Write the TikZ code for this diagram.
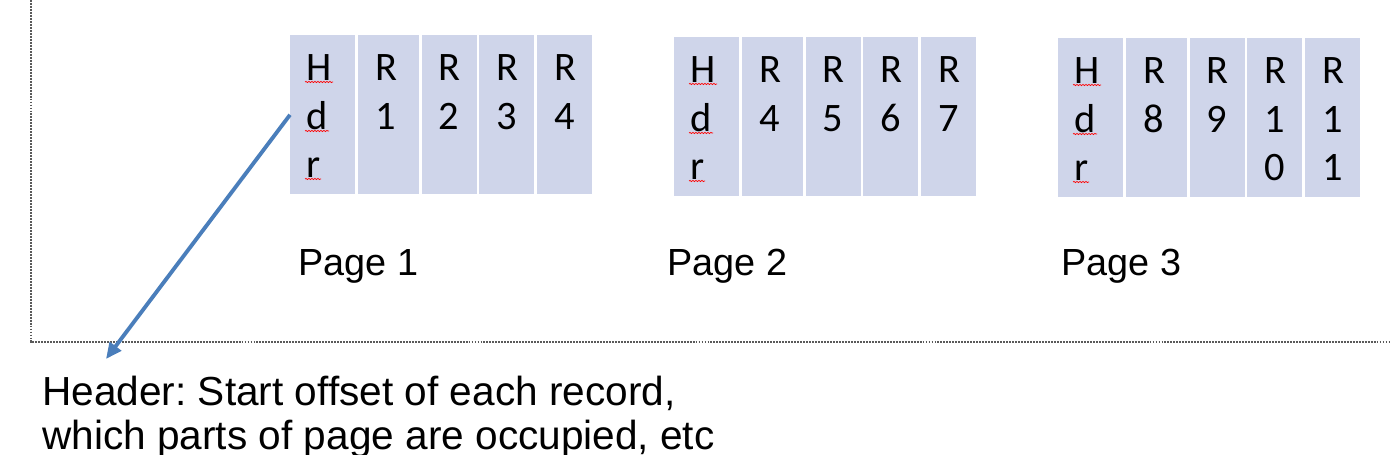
\documentclass[tikz,border=0pt]{standalone}
\usepackage{fontspec}
\usetikzlibrary{positioning}
\usetikzlibrary{arrows.meta}
\usetikzlibrary{decorations.pathmorphing}
\newfontfamily\cellfam{Carlito}
\newfontfamily\labelfam{Liberation Sans}
\definecolor{cellfill}{RGB}{207,213,234}
\definecolor{ptrblue}{RGB}{74,126,187}
\definecolor{framegray}{RGB}{90,90,90}
\tikzset{
    cell/.style={fill=cellfill, inner sep=0pt, minimum height=3.18cm, minimum width=1.1cm} }
\tikzset{
    hdrcell/.style={cell, minimum width=1.3cm},
    firstcell/.style={cell, minimum width=1.22cm} }
\tikzset{
    celltext/.style={anchor=north west, inner sep=0pt, align=left,
        font=\cellfam\fontsize{23}{27.8}\selectfont},
    hdrtext/.style={celltext} }
\tikzset{
    pagelabel/.style={anchor=base west, inner sep=0pt, font=\labelfam\fontsize{21.5}{24}\selectfont},
    notetext/.style={anchor=north west, inner sep=0pt, align=left,
        font=\labelfam\fontsize{23.1}{25}\selectfont\frenchspacing},
    squig/.style={red, line width=0.4pt, decorate,
        decoration={snake, segment length=0.06cm, amplitude=0.012cm}},
    ptr/.style={ptrblue, line width=2.2pt, -{Triangle[length=0.32cm, width=0.28cm]}},
    frame/.style={framegray, line width=0.6pt, dash pattern=on 1.1pt off 0.6pt} }

\begin{document}
\begin{tikzpicture}[x=0.02cm, y=-0.02cm]
  \useasboundingbox (0,0) rectangle (1390,455);

  \draw[frame] (31,0) -- (31,342) -- (1390,342);

% page 1
  \node[hdrcell, anchor=north west] (p1hdr) at (290,35) {};
  \node[firstcell, right=0.04cm of p1hdr] (p1r1) {};
  \node[cell, right=0.04cm of p1r1] (p1r2) {};
  \node[cell, right=0.04cm of p1r2] (p1r3) {};
  \node[cell, right=0.04cm of p1r3] (p1r4) {};
  \node[hdrtext] (p1hdrtxt) at ([shift={(16,19)}]p1hdr.north west) {H\\d\\r};
  \node[celltext] (p1r1txt) at ([shift={(17,19)}]p1r1.north west) {R\\1};
  \node[celltext] (p1r2txt) at ([shift={(17,19)}]p1r2.north west) {R\\2};
  \node[celltext] (p1r3txt) at ([shift={(17,19)}]p1r3.north west) {R\\3};
  \node[celltext] (p1r4txt) at ([shift={(17,19)}]p1r4.north west) {R\\4};
  \node[pagelabel] (page1) at (298,276) {Page 1};

% page 2
  \node[hdrcell, anchor=north west] (p2hdr) at (674,37) {};
  \node[firstcell, right=0.04cm of p2hdr] (p2r4) {};
  \node[cell, right=0.04cm of p2r4] (p2r5) {};
  \node[cell, right=0.04cm of p2r5] (p2r6) {};
  \node[cell, right=0.04cm of p2r6] (p2r7) {};
  \node[hdrtext] (p2hdrtxt) at ([shift={(16,19)}]p2hdr.north west) {H\\d\\r};
  \node[celltext] (p2r4txt) at ([shift={(17,19)}]p2r4.north west) {R\\4};
  \node[celltext] (p2r5txt) at ([shift={(17,19)}]p2r5.north west) {R\\5};
  \node[celltext] (p2r6txt) at ([shift={(17,19)}]p2r6.north west) {R\\6};
  \node[celltext] (p2r7txt) at ([shift={(17,19)}]p2r7.north west) {R\\7};
  \node[pagelabel] (page2) at (667,276) {Page 2};

% page 3
  \node[hdrcell, anchor=north west] (p3hdr) at (1058,38) {};
  \node[firstcell, right=0.04cm of p3hdr] (p3r8) {};
  \node[cell, right=0.04cm of p3r8] (p3r9) {};
  \node[cell, right=0.04cm of p3r9] (p3r10) {};
  \node[cell, right=0.04cm of p3r10] (p3r11) {};
  \node[hdrtext] (p3hdrtxt) at ([shift={(16,19)}]p3hdr.north west) {H\\d\\r};
  \node[celltext] (p3r8txt) at ([shift={(17,19)}]p3r8.north west) {R\\8};
  \node[celltext] (p3r9txt) at ([shift={(17,19)}]p3r9.north west) {R\\9};
  \node[celltext] (p3r10txt) at ([shift={(17,19)}]p3r10.north west) {R\\1\\0};
  \node[celltext] (p3r11txt) at ([shift={(17,19)}]p3r11.north west) {R\\1\\1};
  \node[pagelabel] (page3) at (1061,276) {Page 3};

% spelling marks under Hdr
  \draw[squig] ([shift={(15,47)}]p1hdr.north west) -- ++(28,0); \draw[squig] ([shift={(15,96)}]p1hdr.north west) -- ++(24,0); \draw[squig] ([shift={(15,144)}]p1hdr.north west) -- ++(16,0);
  \draw[squig] ([shift={(15,47)}]p2hdr.north west) -- ++(28,0); \draw[squig] ([shift={(15,96)}]p2hdr.north west) -- ++(24,0); \draw[squig] ([shift={(15,144)}]p2hdr.north west) -- ++(16,0);
  \draw[squig] ([shift={(15,47)}]p3hdr.north west) -- ++(28,0); \draw[squig] ([shift={(15,96)}]p3hdr.north west) -- ++(24,0); \draw[squig] ([shift={(15,144)}]p3hdr.north west) -- ++(16,0);

  \node[notetext] (hdrnote) at (42,376) {Header: Start offset of each record,\\which parts of page are occupied, etc};
  \coordinate (hdrtip) at (106,359);
  \draw[ptr] (p1hdr.west) -- (hdrtip);

\end{tikzpicture}
\end{document}
